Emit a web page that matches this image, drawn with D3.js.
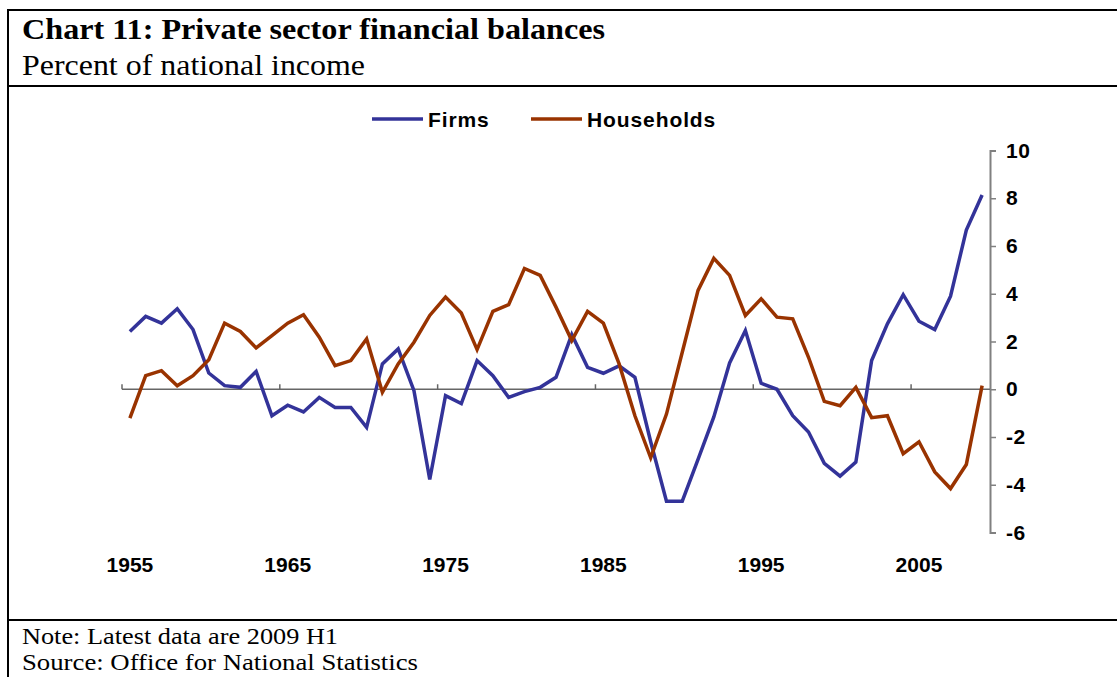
<!DOCTYPE html>
<html>
<head>
<meta charset="utf-8">
<script src="https://cdn.jsdelivr.net/npm/d3@7"></script>
<style>
  body { margin: 0; background: #fff; }
  svg { display: block; }
</style>
</head>
<body>
<svg id="chart" width="1117" height="677"></svg>
<script>
// yearly data, 1955 to 2009 (2009 = H1)
const years = d3.range(1955, 2010);

const firms = [
  2.42, 3.05, 2.77, 3.37, 2.5, 0.68, 0.15, 0.08, 0.75, -1.11,
  -0.67, -0.95, -0.34, -0.76, -0.76, -1.6, 1.06, 1.69, -0.06, -3.78,
  -0.27, -0.6, 1.2, 0.57, -0.34, -0.1, 0.08, 0.5, 2.29, 0.92,
  0.67, 0.98, 0.5, -2.2, -4.69, -4.69, -2.94, -1.16, 1.1, 2.46,
  0.25, 0.0, -1.11, -1.79, -3.1, -3.64, -3.05, 1.2, 2.74, 3.96,
  2.85, 2.5, 3.9, 6.67, 8.14
];

const households = [
  -1.21, 0.57, 0.78, 0.15, 0.57, 1.24, 2.77, 2.42, 1.73, 2.25,
  2.77, 3.12, 2.18, 0.99, 1.2, 2.11, -0.13, 1.06, 1.97, 3.09,
  3.86, 3.19, 1.66, 3.26, 3.54, 5.06, 4.77, 3.44, 2.04, 3.26,
  2.77, 1.06, -1.11, -2.87, -1.04, 1.55, 4.14, 5.48, 4.77, 3.09,
  3.79, 3.02, 2.95, 1.34, -0.51, -0.69, 0.08, -1.19, -1.11, -2.7,
  -2.2, -3.46, -4.16, -3.15, 0.15
];

const seriesNames = ["Firms", "Households"];
const seriesColors = ["#333399", "#993300"];
const yTicks = [-6, -4, -2, 0, 2, 4, 6, 8, 10];
const xLabelYears = [1955, 1965, 1975, 1985, 1995, 2005];

const svg = d3.select("#chart");
const sans = "'Liberation Sans', Arial, sans-serif";
const serif = "'Liberation Serif', 'Times New Roman', serif";

// frame
svg.append("line").attr("x1", 8).attr("x2", 1117).attr("y1", 10).attr("y2", 10)
  .attr("stroke", "#000").attr("stroke-width", 2);
svg.append("line").attr("x1", 8).attr("x2", 8).attr("y1", 9).attr("y2", 677)
  .attr("stroke", "#000").attr("stroke-width", 2);
svg.append("line").attr("x1", 8).attr("x2", 1117).attr("y1", 86).attr("y2", 86)
  .attr("stroke", "#000").attr("stroke-width", 2);
svg.append("line").attr("x1", 8).attr("x2", 1117).attr("y1", 620).attr("y2", 620)
  .attr("stroke", "#000").attr("stroke-width", 2);

// titles
svg.append("text").attr("x", 22).attr("y", 39)
  .attr("font-family", serif).attr("font-weight", "bold").attr("font-size", 30)
  .attr("textLength", 583).attr("lengthAdjust", "spacingAndGlyphs")
  .text("Chart 11: Private sector financial balances");
svg.append("text").attr("x", 22).attr("y", 75)
  .attr("font-family", serif).attr("font-size", 30)
  .attr("textLength", 343).attr("lengthAdjust", "spacingAndGlyphs")
  .text("Percent of national income");

svg.append("text").attr("x", 22).attr("y", 644)
  .attr("font-family", serif).attr("font-size", 24)
  .attr("textLength", 316).attr("lengthAdjust", "spacingAndGlyphs")
  .text("Note: Latest data are 2009 H1");
svg.append("text").attr("x", 22).attr("y", 670)
  .attr("font-family", serif).attr("font-size", 24)
  .attr("textLength", 396).attr("lengthAdjust", "spacingAndGlyphs")
  .text("Source: Office for National Statistics");

// scales
let x = d3.scaleBand().domain(years).range([122, 990]).padding(0);
let y = d3.scaleLinear().domain([-6, 10]).range([532.5, 150.5]);
let cx = d => x(d) + x.bandwidth() / 2;

// y axis on the right
let yAxis = d3.axisRight(y).tickValues(yTicks).tickSize(6).tickFormat(d => String(d));
let yg = svg.append("g").attr("transform", "translate(990,0)").call(yAxis);
yg.select(".domain").attr("stroke", "#808080").attr("stroke-width", 2);
yg.selectAll(".tick line").attr("stroke", "#808080").attr("stroke-width", 1.5);
yg.selectAll(".tick text")
  .attr("x", 16).attr("text-anchor", "start")
  .attr("font-family", sans).attr("font-weight", "bold").attr("font-size", 21)
  .attr("letter-spacing", 0.5)
  .attr("fill", "#000");

// x axis at zero, ticks between categories every 10 years
let tickYears = xLabelYears;
svg.append("line").attr("x1", 122).attr("x2", 990).attr("y1", y(0)).attr("y2", y(0))
  .attr("stroke", "#666").attr("stroke-width", 1.5);
svg.selectAll(".xtick").data(tickYears).join("line").attr("class", "xtick")
  .attr("x1", d => x(d)).attr("x2", d => x(d))
  .attr("y1", y(0)).attr("y2", y(0) - 5)
  .attr("stroke", "#666").attr("stroke-width", 1.5);
svg.selectAll(".xlab").data(xLabelYears).join("text").attr("class", "xlab")
  .attr("x", d => cx(d)).attr("y", 572)
  .attr("text-anchor", "middle")
  .attr("font-family", sans).attr("font-weight", "bold").attr("font-size", 21)
  .text(d => d);

// lines
let line = d3.line().x((d, i) => cx(years[i])).y(d => y(d));
[firms, households].forEach((s, i) => {
  svg.append("path").datum(s)
    .attr("d", line)
    .attr("fill", "none")
    .attr("stroke", seriesColors[i])
    .attr("stroke-width", 3.5)
    .attr("stroke-linejoin", "miter");
});

// legend
let legendX = [372, 531];
seriesNames.forEach((name, i) => {
  svg.append("line").attr("x1", legendX[i]).attr("x2", legendX[i] + 51)
    .attr("y1", 119).attr("y2", 119)
    .attr("stroke", seriesColors[i]).attr("stroke-width", 3.5);
  svg.append("text").attr("x", legendX[i] + 56).attr("y", 126.5)
    .attr("font-family", sans).attr("font-weight", "bold").attr("font-size", 21)
    .attr("letter-spacing", 0.9)
    .text(name);
});
</script>
</body>
</html>
